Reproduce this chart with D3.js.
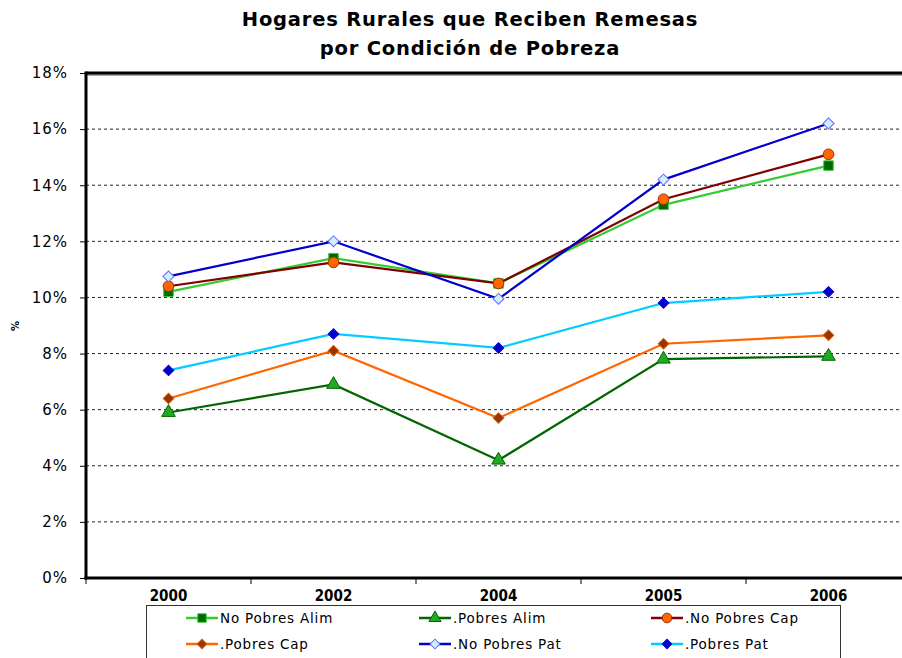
<!DOCTYPE html>
<html lang="es">
<head>
<meta charset="UTF-8">
<script src="https://d3js.org/d3.v7.min.js"></script>
<title>Hogares Rurales que Reciben Remesas</title>
<style>
  body { margin: 0; background: #fff; }
  svg { display: block; }
  .ytick text { font-family: "DejaVu Sans", Verdana, sans-serif; font-size: 15px; letter-spacing: 1px; }
  .xtick text { font-family: "DejaVu Sans Condensed", "DejaVu Sans", sans-serif; font-weight: bold; font-size: 15px; }
  .legend text { font-family: "DejaVu Sans", Verdana, sans-serif; font-size: 13.5px; letter-spacing: 0.8px; }
</style>
</head>
<body>
<svg id="chart" width="902" height="658"></svg>
<script>
// data
const years = ["2000", "2002", "2004", "2005", "2006"];
const noPobresAlim = [10.2, 11.4, 10.5, 13.3, 14.7];
const pobresAlim = [5.9, 6.9, 4.2, 7.8, 7.9];
const noPobresCap = [10.4, 11.25, 10.5, 13.5, 15.1];
const pobresCap = [6.4, 8.1, 5.7, 8.35, 8.65];
const noPobresPat = [10.75, 12.0, 9.95, 14.2, 16.2];
const pobresPat = [7.4, 8.7, 8.2, 9.8, 10.2];
const yTicks = [0, 2, 4, 6, 8, 10, 12, 14, 16, 18];

// diamonds are squares turned 45 degrees
const series = [
  {name: "No Pobres Alim", values: noPobresAlim, line: "#33cc33", fill: "#006600", stroke: "#33cc33", sym: d3.symbolSquare, size: 90, rot: 0},
  {name: ".Pobres Alim", values: pobresAlim, line: "#006600", fill: "#22aa22", stroke: "#006600", sym: d3.symbolTriangle, size: 80, rot: 0},
  {name: ".No Pobres Cap", values: noPobresCap, line: "#800000", fill: "#ff6600", stroke: "#993300", sym: d3.symbolCircle, size: 90, rot: 0},
  {name: ".Pobres Cap", values: pobresCap, line: "#ff6600", fill: "#993300", stroke: "#cc5500", sym: d3.symbolSquare, size: 55, rot: 45},
  {name: ".No Pobres Pat", values: noPobresPat, line: "#0000cc", fill: "#ccf0ff", stroke: "#6666ff", sym: d3.symbolSquare, size: 60, rot: 45},
  {name: ".Pobres Pat", values: pobresPat, line: "#00ccff", fill: "#0000cc", stroke: "#0000cc", sym: d3.symbolSquare, size: 55, rot: 45}
];

const svg = d3.select("#chart");
const plotL = 86, plotR = 911, plotT = 73, plotB = 578;

const x = d3.scaleBand().domain(years).range([plotL, plotR]).padding(0);
const y = d3.scaleLinear().domain([0, 18]).range([plotB, plotT]);
const cx = d => x(d) + x.bandwidth() / 2;

// title
const title = svg.append("text")
  .attr("x", 470)
  .attr("text-anchor", "middle")
  .style("font-family", "'DejaVu Sans', Verdana, sans-serif")
  .style("font-weight", "bold")
  .style("font-size", "19.5px")
  .style("letter-spacing", "0.8px");
title.append("tspan").attr("x", 470).attr("y", 26).text("Hogares Rurales que Reciben Remesas");
title.append("tspan").attr("x", 470).attr("y", 55).text("por Condición de Pobreza");

// legend (drawn first so the year labels stay on top)
const lg = svg.append("g").attr("class", "legend");
lg.append("rect")
  .attr("x", 146.5).attr("y", 605.5)
  .attr("width", 694).attr("height", 70)
  .attr("fill", "#fff")
  .attr("stroke", "#333");
const colX = [186, 419, 651];
const rowY = [618, 644];
series.forEach((s, i) => {
  const gx = colX[i % 3], gy = rowY[Math.floor(i / 3)];
  const g = lg.append("g").attr("transform", `translate(${gx},${gy})`);
  g.append("line").attr("x1", 0).attr("x2", 32).attr("y1", 0).attr("y2", 0)
    .attr("stroke", s.line).attr("stroke-width", 2.5);
  g.append("path")
    .attr("transform", `translate(16,0) rotate(${s.rot})`)
    .attr("d", d3.symbol().type(s.sym).size(s.size * 0.8))
    .attr("fill", s.fill).attr("stroke", s.stroke);
  g.append("text").attr("x", 34).attr("y", 5).text(s.name);
});

// gridlines
svg.append("g")
  .selectAll("line")
  .data(yTicks.filter(t => t > 0 && t < 18))
  .join("line")
  .attr("x1", plotL).attr("x2", plotR)
  .attr("y1", d => y(d)).attr("y2", d => y(d))
  .attr("stroke", "#222")
  .attr("stroke-width", 1)
  .attr("stroke-dasharray", "3,3");

// plot frame (top)
svg.append("line")
  .attr("x1", plotL).attr("x2", plotR)
  .attr("y1", plotT + 2).attr("y2", plotT + 2)
  .attr("stroke", "#aaa").attr("stroke-width", 2);
svg.append("line")
  .attr("x1", plotL).attr("x2", plotR)
  .attr("y1", plotT).attr("y2", plotT)
  .attr("stroke", "#000").attr("stroke-width", 3);

// y axis
const yAxis = svg.append("g")
  .attr("class", "ytick")
  .attr("transform", `translate(${plotL},0)`)
  .call(d3.axisLeft(y).tickValues(yTicks).tickSize(6).tickPadding(12).tickFormat(d => d + "%"));
yAxis.select(".domain").remove();
yAxis.selectAll(".tick line").attr("stroke", "#000");
svg.append("line")
  .attr("x1", plotL).attr("x2", plotL)
  .attr("y1", plotT - 1.5).attr("y2", plotB + 1.5)
  .attr("stroke", "#000").attr("stroke-width", 3);

svg.append("text")
  .attr("transform", "translate(19,326) rotate(-90)")
  .attr("text-anchor", "middle")
  .style("font-family", "'DejaVu Sans', sans-serif")
  .style("font-size", "10px")
  .style("font-weight", "bold")
  .text("%");

// x axis
const xAxis = svg.append("g")
  .attr("class", "xtick")
  .attr("transform", `translate(0,${plotB})`)
  .call(d3.axisBottom(x).tickSize(0).tickPadding(12));
xAxis.select(".domain").remove();
svg.append("g")
  .selectAll("line")
  .data(years.map(d => x(d)).concat([plotR]))
  .join("line")
  .attr("x1", d => d).attr("x2", d => d)
  .attr("y1", plotB).attr("y2", plotB + 6)
  .attr("stroke", "#000");
svg.append("line")
  .attr("x1", plotL - 1.5).attr("x2", plotR)
  .attr("y1", plotB).attr("y2", plotB)
  .attr("stroke", "#000").attr("stroke-width", 3);

// series
const line = d3.line().x((d, i) => cx(years[i])).y(d => y(d));
series.forEach(s => {
  svg.append("path")
    .datum(s.values)
    .attr("d", line)
    .attr("fill", "none")
    .attr("stroke", s.line)
    .attr("stroke-width", 2.2);
  svg.append("g")
    .selectAll("path")
    .data(s.values)
    .join("path")
    .attr("transform", (d, i) => `translate(${cx(years[i])},${y(d)}) rotate(${s.rot})`)
    .attr("d", d3.symbol().type(s.sym).size(s.size))
    .attr("fill", s.fill)
    .attr("stroke", s.stroke)
    .attr("stroke-width", 1);
});
</script>
</body>
</html>
